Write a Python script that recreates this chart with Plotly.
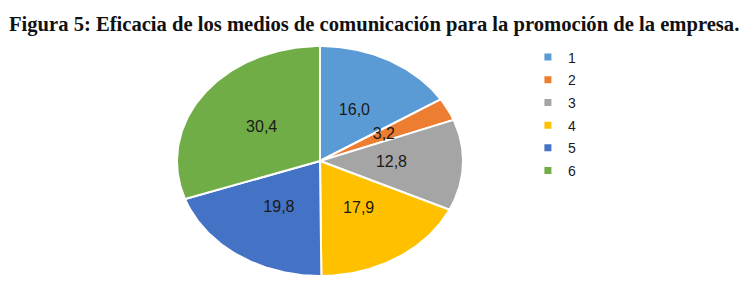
import numpy as np
import plotly.graph_objects as go

categories = ["1", "2", "3", "4", "5", "6"]
values = [16.0, 3.2, 12.8, 17.9, 19.8, 30.4]
labels = ["16,0", "3,2", "12,8", "17,9", "19,8", "30,4"]
colors = ["#5B9BD5", "#ED7D31", "#A5A5A5", "#FFC000", "#4472C4", "#70AD47"]
title = "Figura 5: Eficacia de los medios de comunicación para la promoción de la empresa."

W, H = 747, 296
cx, cy = 312, 153      # pixel centre of the pie (figure coordinates)
rx, ry = 143, 115      # pixel radii (elliptical pie)

total = sum(values)
fig = go.Figure()
cum = 0.0
lx, ly = [], []
for cat, v, col in zip(categories, values, colors):
    a0 = cum / total * 2 * np.pi
    a1 = (cum + v) / total * 2 * np.pi
    t = np.linspace(a0, a1, max(int(v * 4), 8))
    xs = np.concatenate([[0], np.sin(t), [0]])
    ys = np.concatenate([[0], np.cos(t), [0]])
    fig.add_trace(go.Scatter(x=xs, y=ys, mode="lines", fill="toself",
                             fillcolor=col, line=dict(color="white", width=2),
                             hoverinfo="skip", showlegend=False))
    am = (a0 + a1) / 2
    lx.append(0.5 * np.sin(am))
    ly.append(0.5 * np.cos(am))
    cum += v

fig.add_trace(go.Scatter(x=lx, y=ly, mode="text", text=labels,
                         textfont=dict(family="Liberation Sans, Arial", size=16, color="#1a1a1a"),
                         showlegend=False, hoverinfo="skip"))

for i, (cat, col) in enumerate(zip(categories, colors)):
    fig.add_trace(go.Scatter(x=[None], y=[None], mode="markers", name=cat,
                             marker=dict(symbol="square", size=7, color=col),
                             legendgroup=str(i)))

fig.update_layout(
    width=W, height=H,
    margin=dict(l=0, r=0, t=0, b=0),
    paper_bgcolor="white", plot_bgcolor="white",
    xaxis=dict(range=[-cx / rx, (W - cx) / rx], visible=False, fixedrange=True),
    yaxis=dict(range=[-(H - cy) / ry, cy / ry], visible=False, fixedrange=True),
    showlegend=True,
    legend=dict(x=0.696, y=0.887, xanchor="left", yanchor="top",
                font=dict(family="Liberation Sans, Arial", size=14, color="#1a1a1a"),
                itemwidth=30, tracegroupgap=1.5, bgcolor="rgba(0,0,0,0)"),
    annotations=[dict(text="<b>" + title + "</b>", x=0.4893, y=1, xref="paper", yref="paper",
                      xanchor="center", yanchor="top", yshift=-3, showarrow=False,
                      font=dict(family="Liberation Serif, Times New Roman", size=20.6, color="#111"))],
)

fig.write_html("out.html")
